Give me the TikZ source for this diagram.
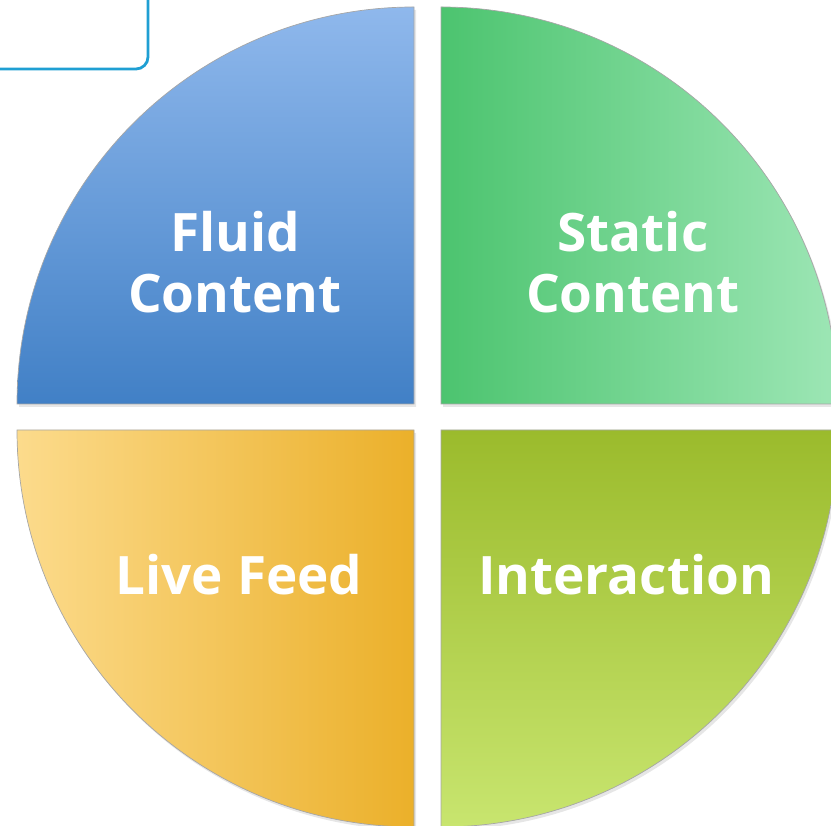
\documentclass[tikz,border=0pt]{standalone}
\usepackage{fontspec}
\setmainfont{Open Sans}
\usetikzlibrary{shadows}
\definecolor{fluidtop}{HTML}{8FB8EC}
\definecolor{fluidbottom}{HTML}{4180C6}
\definecolor{staticleft}{HTML}{4CC46F}
\definecolor{staticright}{HTML}{9DE6B5}
\definecolor{liveleft}{HTML}{FCDB8C}
\definecolor{liveright}{HTML}{EBB02A}
\definecolor{interacttop}{HTML}{9BBB2C}
\definecolor{interactbottom}{HTML}{C8E56F}
\definecolor{framecyan}{HTML}{1F9FD3}

\begin{document}
\begin{tikzpicture}[x=1pt, y=1pt,
    quarter/.style={draw=black!35, line width=0.7pt,
      drop shadow={opacity=0.2, shadow xshift=2pt, shadow yshift=-3pt}},
    caption/.style={text=white, align=center,
      font=\fontsize{53}{61}\selectfont\bfseries}]
      \useasboundingbox (0,0) rectangle (831,826);

      % frame in the corner
      \draw[framecyan, line width=2.8pt, rounded corners=12pt] (-20,757) rectangle (148,850);

      % four quarters
      \path[quarter, top color=fluidtop, bottom color=fluidbottom]
        (414,422) -- (17,422) arc[start angle=180, end angle=90, radius=397] -- cycle;
      \path[quarter, left color=staticleft, right color=staticright]
        (441,422) -- (441,819) arc[start angle=90, end angle=0, radius=397] -- cycle;
      \path[quarter, left color=liveleft, right color=liveright]
        (414,396) -- (414,-1) arc[start angle=270, end angle=180, radius=397] -- cycle;
      \path[quarter, top color=interacttop, bottom color=interactbottom]
        (441,396) -- (838,396) arc[start angle=0, end angle=-90, radius=397] -- cycle;

      \node[caption] (fluid) at (235,564) {Fluid\\Content};
      \node[caption] (static) at (633,564) {Static\\Content};
      \node[caption] (live) at (239,251) {Live Feed};
      \node[caption] (interact) at (626,251) {Interaction};
    \end{tikzpicture}
\end{document}
